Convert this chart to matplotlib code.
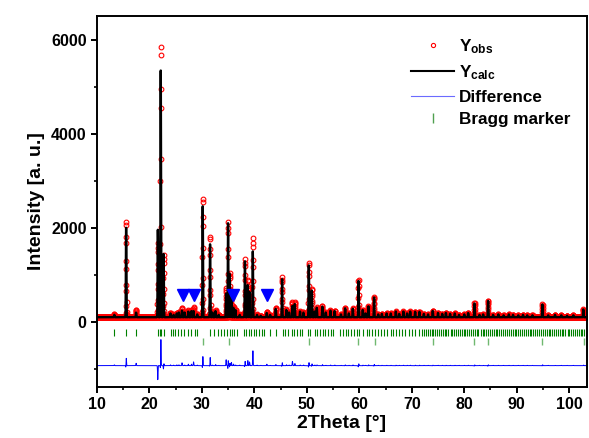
import numpy as np
import matplotlib
matplotlib.use("Agg")
from matplotlib import pyplot as plt
from matplotlib.lines import Line2D
from matplotlib.ticker import MultipleLocator

# peak positions (2theta) with calculated / observed intensity above background
peak_pos = [13.3, 15.55, 17.45, 21.6, 22.15, 22.7, 24.0, 24.6, 25.2, 25.6,
            26.2, 26.7, 27.4, 28.0, 28.4, 29.1, 30.15, 31.55, 32.0, 32.6,
            33.2, 34.6, 34.98, 35.3, 35.6, 36.0, 36.4, 37.2, 38.2, 38.73,
            39.05, 39.7, 40.5, 41.2, 42.36, 43.0, 44.07, 45.28, 46.1, 46.6,
            47.24, 47.7, 48.7, 49.35, 50.37, 50.95, 51.5, 51.9, 52.95, 53.6,
            54.5, 55.3, 56.5, 57.3, 58.0, 58.76, 59.85, 60.66, 61.2, 61.74,
            62.82, 63.6, 64.3, 65.2, 66.0, 66.96, 67.6, 68.4, 69.1, 69.7,
            70.64, 71.46, 72.3, 73.1, 74.0, 75.0, 75.8, 76.5, 77.3, 78.2,
            79.0, 80.0, 80.75, 81.95, 82.9, 83.6, 84.55, 85.5, 86.5, 87.5,
            88.5, 89.3, 90.3, 91.2, 92.0, 93.0, 94.9, 96.0, 97.3, 98.5,
            99.6, 100.8, 102.7]
calc_int = [50, 1950, 100, 1860, 5380, 1345, 80, 50, 80, 100,
            140, 100, 120, 130, 130, 60, 2420, 1590, 100, 130,
            50, 500, 2000, 920, 500, 200, 150, 50, 1190, 700,
            550, 1400, 50, 30, 90, 50, 180, 810, 155, 100,
            240, 280, 120, 100, 1130, 580, 120, 200, 230, 100,
            140, 130, 60, 190, 80, 180, 790, 155, 80, 230,
            420, 60, 70, 80, 80, 120, 70, 120, 80, 120,
            115, 115, 70, 60, 135, 90, 70, 90, 70, 80,
            50, 60, 90, 300, 50, 60, 355, 50, 60, 40,
            60, 50, 40, 50, 40, 40, 270, 40, 50, 40,
            30, 40, 165]
obs_int = [65, 2055, 150, 1580, 5820, 1320, 95, 60, 95, 115,
           200, 110, 150, 160, 210, 70, 2550, 1730, 110, 150,
           55, 620, 2035, 940, 560, 230, 160, 60, 1250, 800,
           620, 1700, 60, 35, 120, 55, 200, 850, 170, 110,
           330, 320, 130, 110, 1160, 600, 130, 210, 245, 105,
           150, 140, 65, 200, 85, 190, 800, 160, 85, 240,
           430, 65, 75, 85, 85, 125, 75, 125, 85, 125,
           120, 120, 75, 65, 140, 95, 75, 95, 75, 85,
           55, 65, 95, 305, 55, 65, 360, 55, 65, 45,
           65, 55, 45, 55, 45, 45, 280, 45, 55, 45,
           35, 45, 170]
background = 100
diff_offset = -930
obs_shift = 0.003

# Bragg reflection positions, main phase and second phase
bragg_main = [13.3, 15.6, 17.5, 21.63, 21.95, 22.27, 22.7, 24.1, 24.5, 24.94,
              25.45, 26.1, 26.66, 27.3, 28.0, 28.6, 29.07, 31.6, 32.25, 33.0,
              33.65, 34.16, 34.8, 35.3, 35.75, 36.2, 36.7, 37.97, 38.48, 38.93,
              39.37, 39.88, 40.39, 40.9, 41.4, 41.8, 43.0, 44.1, 45.4, 45.85,
              46.5, 47.1, 47.6, 48.2, 48.6, 49.1, 50.2, 50.6, 51.6, 52.0,
              52.5, 53.0, 53.5, 54.1, 54.6, 54.9, 56.3, 56.85, 57.5, 57.9,
              58.4, 58.9, 59.5, 60.0, 60.7, 61.4, 61.9, 62.4, 63.0, 63.5,
              64.1, 64.7, 65.2, 66.0, 66.5, 67.0, 67.65, 68.1, 68.7, 69.4,
              70.0, 70.6, 71.3, 71.9, 72.4, 72.7, 73.0, 73.4, 73.8, 74.1,
              74.5, 74.9, 75.2, 75.6, 75.9, 76.3, 76.6, 77.0, 77.4, 77.7,
              78.1, 78.4, 78.8, 79.1, 79.5, 79.9, 80.2, 80.6, 80.9, 81.3,
              81.7, 82.0, 82.4, 82.7, 83.1, 83.5, 83.8, 84.2, 84.5, 84.9,
              85.3, 85.6, 86.0, 86.3, 86.7, 87.1, 87.4, 87.8, 88.1, 88.5,
              88.9, 89.2, 89.6, 89.9, 90.3, 90.7, 91.0, 91.4, 91.7, 92.1,
              92.5, 92.8, 93.2, 93.5, 93.9, 94.3, 94.6, 95.0, 95.3, 95.7,
              96.1, 96.4, 96.8, 97.1, 97.5, 97.9, 98.2, 98.6, 98.9, 99.3,
              99.7, 100.0, 100.4, 100.7, 101.1, 101.5, 101.8, 102.2, 102.5, 102.9]
bragg_second = [30.15, 35.2, 50.36, 59.83, 62.9, 74.05, 81.95, 84.6, 94.9, 102.75]

# impurity reflections marked with triangles
impurity_pos = [26.3, 28.4, 35.9, 42.4]
impurity_y = 575

tth = np.arange(10.0, 103.3, 0.02)
sigma = 0.045


def profile(heights, shift=0.0):
    y = np.full_like(tth, float(background))
    for p, h in zip(peak_pos, heights):
        y += h * np.exp(-0.5 * ((tth - p - shift) / sigma) ** 2)
    return y


y_calc = profile(calc_int)
y_obs = profile(obs_int, obs_shift)
y_diff = y_obs - y_calc + diff_offset

plt.rcParams['font.family'] = ['Liberation Sans', 'DejaVu Sans']
plt.rcParams['font.weight'] = 'bold'
plt.rcParams['mathtext.fontset'] = 'custom'
plt.rcParams['mathtext.rm'] = 'Liberation Sans:bold'
plt.rcParams['mathtext.bf'] = 'Liberation Sans:bold'
plt.rcParams['mathtext.default'] = 'bf'

fig = plt.figure(figsize=(5.89, 4.38), dpi=100)
ax = fig.add_axes([97 / 589, 1 - 387 / 438, 490 / 589, 371 / 438])

ax.plot(tth, y_obs, linestyle='none', marker='o', markersize=3.4,
        markerfacecolor='none', markeredgecolor='red', markeredgewidth=0.8)
ax.plot(tth, y_calc, color='black', lw=1.7)
ax.plot(tth, y_diff, color='#0000ff', lw=0.7)
ax.vlines(bragg_main, -300, -155, color='#008000', lw=0.8)
ax.vlines(bragg_second, -500, -340, color='#70b870', lw=1.0)
ax.plot(impurity_pos, [impurity_y] * len(impurity_pos), linestyle='none',
        marker='v', markersize=8, color='#0000ff')

ax.set_xlim(10, 103.4)
ax.set_ylim(-1385, 6510)
ax.xaxis.set_major_locator(MultipleLocator(10))
ax.xaxis.set_minor_locator(MultipleLocator(5))
ax.yaxis.set_major_locator(MultipleLocator(2000))
ax.yaxis.set_minor_locator(MultipleLocator(1000))
ax.tick_params(which='major', direction='out', length=4, width=1.4, labelsize=11.5)
ax.tick_params(which='minor', direction='out', length=2.5, width=1.2)
for s in ax.spines.values():
    s.set_linewidth(1.4)

ax.set_xlabel('2Theta [°]', fontsize=14, fontweight='bold', labelpad=2)
ax.set_ylabel('Intensity [a. u.]', fontsize=14, fontweight='bold', labelpad=4)

handles = [
    Line2D([], [], linestyle='none', marker='o', markersize=3.0,
           markerfacecolor='none', markeredgecolor='red', markeredgewidth=0.8),
    Line2D([], [], color='black', lw=1.5),
    Line2D([], [], color='#6b6bff', lw=0.8),
    Line2D([], [], linestyle='none', marker='|', markersize=7, color='#50a050'),
]
labels = ['Y$_{obs}$', 'Y$_{calc}$', 'Difference', 'Bragg marker']
ax.legend(handles, labels, loc='upper left', bbox_to_anchor=(0.61, 0.985),
          frameon=False, fontsize=12.3, handlelength=2.5, handletextpad=0.3,
          labelspacing=0.45)

fig.savefig('out.png', dpi=100)
